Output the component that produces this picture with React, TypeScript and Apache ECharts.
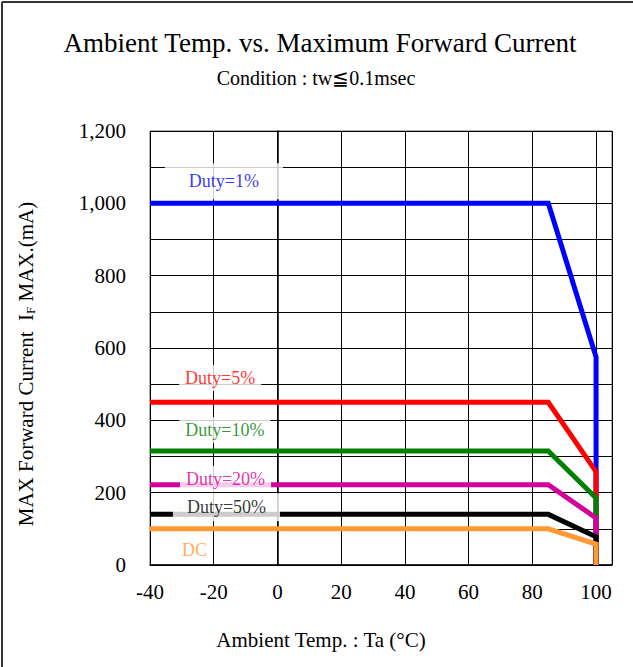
import React, { useEffect, useRef } from "react";
import * as echarts from "echarts";

const temps = [-40, 85, 100, 100];
const duty1 = [1000, 1000, 575, 0];
const duty5 = [450, 450, 258, 0];
const duty10 = [315, 315, 185, 0];
const duty20 = [222, 222, 130, 0];
const duty50 = [140, 140, 78, 0];
const dcVals = [100, 100, 58, 0];

const seriesNames = ["Duty=1%", "Duty=5%", "Duty=10%", "Duty=20%", "Duty=50%", "DC"];
const seriesColors = ["#0000FF", "#FF0000", "#008000", "#D4009A", "#000000", "#FF9933"];
const seriesValues = [duty1, duty5, duty10, duty20, duty50, dcVals];

// label anchor positions in data coordinates
const labelX = [-16.8, -18, -16.5, -16.3, -16, -26];
const labelY = [1061, 517, 373, 238, 160, 41];
const labelPad = [
  [9, 24],
  [4, 6],
  [4, 6],
  [4, 6],
  [5, 14],
  [2, 3],
];

const FONT = "'Liberation Serif', 'DejaVu Serif', serif";

export default function App() {
  const ref = useRef<HTMLDivElement>(null);
  useEffect(() => {
    if (!ref.current) return;
    const chart = echarts.init(ref.current, undefined, { renderer: "svg" });
    const lineSeries = seriesValues.map((vals, i) => ({
      type: "line",
      name: seriesNames[i],
      data: temps.map((t, j) => [t, vals[j]]),
      showSymbol: false,
      symbol: "none",
      lineStyle: { color: seriesColors[i], width: 5, join: "miter" },
      z: 3 + i * 0.01,
    }));
    const labelSeries = {
      type: "scatter",
      symbolSize: 0,
      z: 10,
      data: seriesNames.map((n, i) => ({
        value: [labelX[i], labelY[i]],
        label: {
          show: true,
          position: "inside",
          formatter: n,
          color: seriesColors[i],
          fontFamily: FONT,
          fontSize: 18,
          backgroundColor: "#FFFFFF",
          padding: labelPad[i],
        },
      })),
    };
    chart.setOption({
      animation: false,
      backgroundColor: "#FFFFFF",
      grid: {
        left: 150,
        top: 131,
        right: 21,
        bottom: 102,
        show: true,
        borderColor: "#666",
        borderWidth: 1,
      },
      xAxis: {
        type: "value",
        min: -40,
        max: 105,
        interval: 20,
        axisLine: { show: true, onZero: false, lineStyle: { color: "#000", width: 1.5 } },
        axisTick: { show: false },
        splitLine: { show: true, lineStyle: { color: "#000", width: 1 } },
        axisLabel: {
          color: "#000",
          fontFamily: FONT,
          fontSize: 21,
          margin: 16,
          formatter: (v: number) => (v % 20 === 0 && v <= 100 ? String(v) : ""),
        },
      },
      yAxis: {
        type: "value",
        min: 0,
        max: 1200,
        interval: 100,
        axisLine: { show: true, lineStyle: { color: "#000", width: 1.5 } },
        axisTick: { show: false },
        splitLine: { show: true, lineStyle: { color: "#000", width: 1 } },
        axisLabel: {
          color: "#000",
          fontFamily: FONT,
          fontSize: 21,
          margin: 24,
          formatter: (v: number) => (v % 200 === 0 ? v.toLocaleString("en-US") : ""),
        },
      },
      graphic: [
        { type: "line", shape: { x1: 2, y1: 2, x2: 640, y2: 2 }, style: { stroke: "#333", lineWidth: 2 } },
        { type: "line", shape: { x1: 2, y1: 2, x2: 2, y2: 670 }, style: { stroke: "#333", lineWidth: 2 } },
        {
          type: "text",
          x: 320,
          y: 43,
          style: {
            text: "Ambient Temp. vs. Maximum Forward Current",
            fontFamily: FONT,
            fontSize: 27,
            fill: "#000",
            align: "center",
            verticalAlign: "middle",
          },
        },
        {
          type: "text",
          x: 316,
          y: 78,
          style: {
            text: "Condition : tw≦0.1msec",
            fontFamily: FONT,
            fontSize: 20,
            fill: "#000",
            align: "center",
            verticalAlign: "middle",
          },
        },
        {
          type: "text",
          x: 321,
          y: 640,
          style: {
            text: "Ambient Temp. : Ta (°C)",
            fontFamily: FONT,
            fontSize: 21,
            fill: "#000",
            align: "center",
            verticalAlign: "middle",
          },
        },
        {
          type: "text",
          x: 26,
          y: 364,
          rotation: Math.PI / 2,
          style: {
            text: "MAX Forward Current  {i|I}{s|F} {i|MAX.(mA)}",
            fontFamily: FONT,
            fontSize: 21,
            fill: "#000",
            align: "center",
            verticalAlign: "middle",
            rich: {
              i: { fontFamily: FONT, fontSize: 21, fill: "#000" },
              s: { fontFamily: FONT, fontSize: 13, fill: "#000", verticalAlign: "bottom" },
            },
          },
        },
      ],
      series: [...lineSeries, labelSeries],
    });
    return () => chart.dispose();
  }, []);
  return (
    <div
      ref={ref}
      style={{ position: "fixed", left: 0, top: 0, width: 633, height: 667, background: "#fff" }}
    />
  );
}
